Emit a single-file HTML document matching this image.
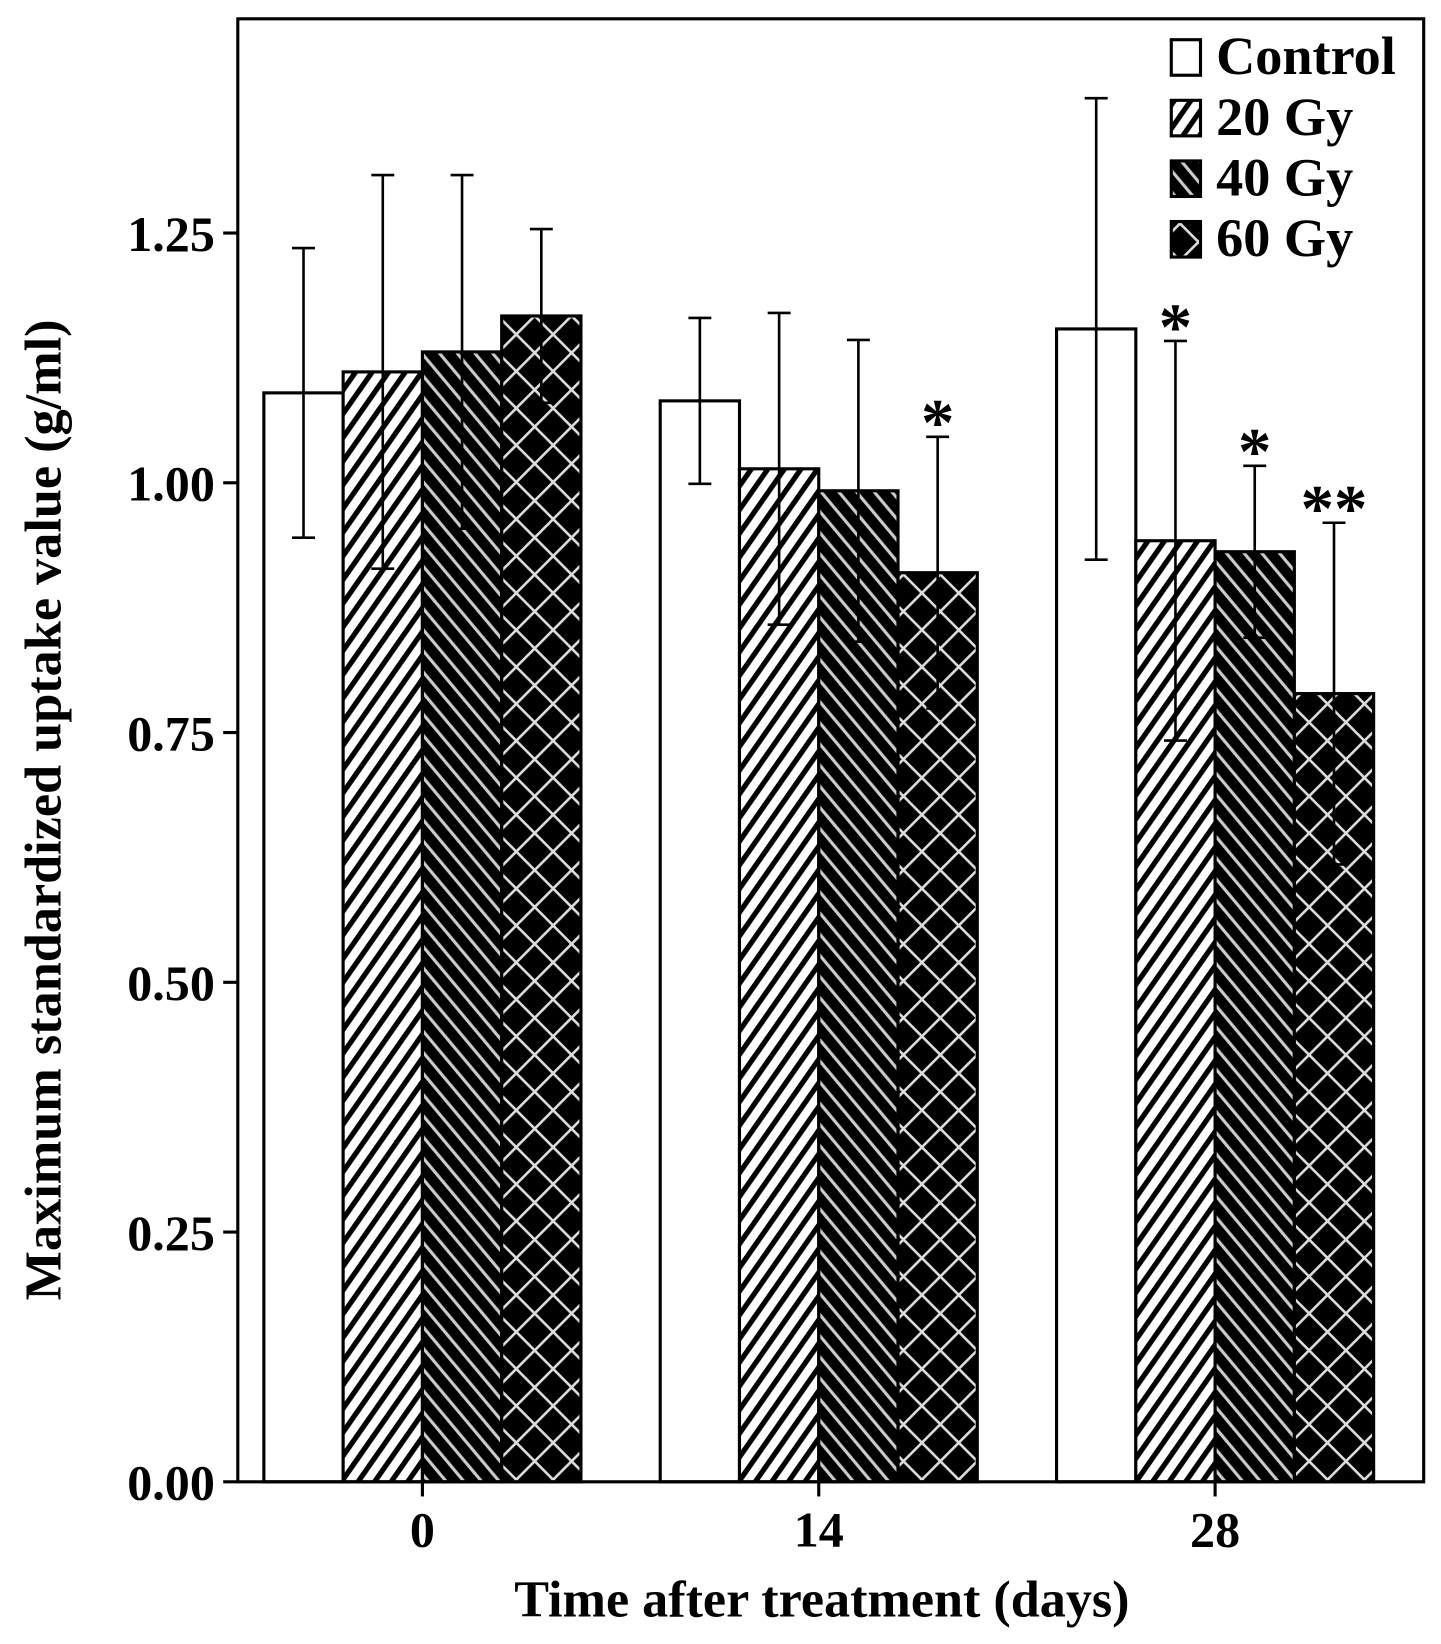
<!DOCTYPE html>
<html><head><meta charset="utf-8"><style>
html,body{margin:0;padding:0;background:#fff;}
svg text{font-family:"Liberation Serif",serif;fill:#000;font-weight:bold;}
</style></head><body>
<svg id="chart" width="1441" height="1639" xmlns="http://www.w3.org/2000/svg">
<defs>
<pattern id="p20" patternUnits="userSpaceOnUse" width="13" height="13" patternTransform="rotate(35)">
<rect width="13" height="13" fill="#fff"/><rect width="5" height="13" fill="#000"/></pattern>
<pattern id="p40" patternUnits="userSpaceOnUse" width="13" height="13" patternTransform="rotate(-40)">
<rect width="13" height="13" fill="#000"/><rect width="3" height="13" fill="#ccc"/></pattern>
<pattern id="p60" patternUnits="userSpaceOnUse" width="25" height="25" patternTransform="rotate(45)">
<rect width="25" height="25" fill="#000"/><rect width="2.5" height="25" fill="#ddd"/><rect width="25" height="2.5" fill="#ddd"/></pattern>
</defs>
<g id="plot" transform="scale(1.043,1.045)"></g>
</svg>
<script>
const categories=["0","14","28"];
const seriesNames=["Control","20 Gy","40 Gy","60 Gy"];
const control=[1.090,1.082,1.154];
const gy20=[1.111,1.014,0.942];
const gy40=[1.131,0.992,0.931];
const gy60=[1.167,0.910,0.789];
const errControl=[0.145,0.083,0.231];
const err20=[0.197,0.156,0.200];
const err40=[0.177,0.151,0.086];
const err60=[0.087,0.136,0.171];
const stars20=["","","*"];
const stars40=["","","*"];
const stars60=["","*","**"];
const yTicks=[0,0.25,0.5,0.75,1.0,1.25];

const NS="http://www.w3.org/2000/svg";
const g=document.getElementById('plot');
const L=228,R=1365,T=18,B=1418,PX=956;
const y=v=>B-v*PX;
const xc=i=>405+i*380;
const BW=76;
function mk(t,a,p){const e=document.createElementNS(NS,t);for(const k in a)e.setAttribute(k,a[k]);(p||g).appendChild(e);return e;}

const series=[control,gy20,gy40,gy60];
const errs=[errControl,err20,err40,err60];
const fills=["#fff","url(#p20)","url(#p40)","url(#p60)"];
const stars=[["","",""],stars20,stars40,stars60];
series.forEach((s,si)=>{s.forEach((v,ci)=>{
 const x0=xc(ci)-2*BW+si*BW;
 const r=mk('rect',{x:x0,y:y(v),width:BW,height:B-y(v),fill:fills[si],stroke:'#000','stroke-width':3});
 
 
 const cx=x0+BW/2,e=errs[si][ci];
 const eb=mk('path',{d:`M${cx},${y(v-e)}V${y(v+e)}M${cx-11},${y(v+e)}H${cx+11}M${cx-11},${y(v-e)}H${cx+11}`,stroke:'#000','stroke-width':2.5,fill:'none'});
 
 
 if(stars[si][ci]){const t=mk('text',{x:cx,y:y(v+e)+8,'font-size':64,'text-anchor':'middle','font-weight':'normal'});t.textContent=stars[si][ci];
 
 }
});});

const fr=mk('rect',{x:L,y:T,width:R-L,height:B-T,fill:'none',stroke:'#000','stroke-width':3});


yTicks.forEach(v=>{
 mk('line',{x1:L-14,x2:L,y1:y(v),y2:y(v),stroke:'#000','stroke-width':3});
 const t=mk('text',{x:L-22,y:y(v)+17,'font-size':48,'text-anchor':'end'});t.textContent=v.toFixed(2);
 
 
});
categories.forEach((c,i)=>{
 mk('line',{x1:xc(i),x2:xc(i),y1:B,y2:B+14,stroke:'#000','stroke-width':3});
 const t=mk('text',{x:xc(i),y:B+62,'font-size':48,'text-anchor':'middle'});t.textContent=c;
 
 
});
const xt=mk('text',{x:788,y:1547,'font-size':50,'text-anchor':'middle'});xt.textContent='Time after treatment (days)';


const yt=mk('text',{x:0,y:0,'font-size':50,'text-anchor':'middle',transform:'translate(58,775) rotate(-90)'});yt.textContent='Maximum standardized uptake value (g/ml)';



seriesNames.forEach((n,i)=>{
 const yy=38+i*58;
 const b=mk('rect',{x:1123,y:yy,width:28,height:34,fill:fills[i],stroke:'#000','stroke-width':3});
 
 
 const t=mk('text',{x:1166,y:yy+33,'font-size':52});t.textContent=n;
 
 
});
</script>
</body></html>
